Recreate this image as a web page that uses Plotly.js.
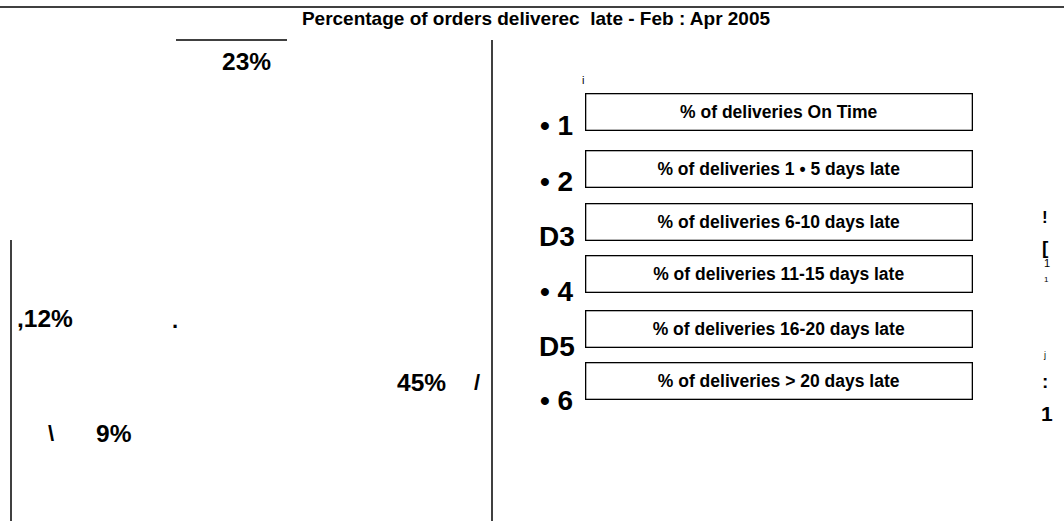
<!DOCTYPE html>
<html>
<head>
<meta charset="utf-8">
<script src="https://cdn.plot.ly/plotly-3.0.1.min.js"></script>
<style>html,body{margin:0;padding:0;background:#fff;}#chart{width:1064px;height:521px;}</style>
</head>
<body>
<div id="chart"></div>
<script>
// ---- data ----
const chartTitle = 'Percentage of orders deliverec  late - Feb : Apr 2005';
const pctValues = [23, 12, 45, 9];
const pctPrefix = ['', ',', '', ''];
const legendMarks = ['\u2022 1', '\u2022 2', 'D3', '\u2022 4', 'D5', '\u2022 6'];
const legendItems = [
  '% of deliveries On Time',
  '% of deliveries 1 \u2022 5 days late',
  '% of deliveries 6-10 days late',
  '% of deliveries 11-15 days late',
  '% of deliveries 16-20 days late',
  '% of deliveries > 20 days late'
];
const strayMarks = ['.', '/', '\\', 'i', '!', '[', '1', '1', 'j', ':', '1'];

// ---- layout positions (pixels) ----
const W = 1064, H = 521;
const px = x => x / W;
const py = y => 1 - y / H;
const FONT = 'Liberation Sans, Arial, sans-serif';

const pctPos = [[246, 61], [45, 318], [421, 382], [114, 433]];
const markPos = [[538, 125], [538, 181], [537, 237], [538, 291], [537, 346], [538, 400]];
const boxCY = [111.5, 169, 222, 273.5, 328.5, 381];
const strayPos = [
  [175, 320, 22, true], [477, 382, 22, true], [51, 433, 22, true],
  [583, 80, 11, false],
  [1045, 217, 17, true], [1045, 247, 19, true], [1047, 263, 11, false],
  [1046, 279, 8, false], [1044, 355, 9, false], [1045, 381, 19, true], [1047, 413, 21, true]
];

const annotations = [];
pctValues.forEach((v, i) => {
  annotations.push({
    text: '<b>' + pctPrefix[i] + v + '%</b>',
    xref: 'paper', yref: 'paper', x: px(pctPos[i][0]), y: py(pctPos[i][1]),
    xanchor: 'center', yanchor: 'middle', showarrow: false,
    font: {family: FONT, size: 24.5, color: '#000'}
  });
});
legendMarks.forEach((m, i) => {
  annotations.push({
    text: '<b>' + m + '</b>',
    xref: 'paper', yref: 'paper', x: px(markPos[i][0]), y: py(markPos[i][1]),
    xanchor: 'left', yanchor: 'middle', showarrow: false,
    font: {family: FONT, size: 28, color: '#000'}
  });
});
legendItems.forEach((t, i) => {
  annotations.push({
    text: '<b>' + t + '</b>',
    xref: 'paper', yref: 'paper', x: px(778.5), y: py(boxCY[i]),
    xanchor: 'center', yanchor: 'middle', showarrow: false,
    width: 385, height: 35, borderpad: 0, borderwidth: 1.3, bordercolor: '#000',
    align: 'center', valign: 'middle',
    font: {family: FONT, size: 17.5, color: '#000'}
  });
});
strayMarks.forEach((s, i) => {
  const p = strayPos[i];
  annotations.push({
    text: p[3] ? '<b>' + s + '</b>' : s,
    xref: 'paper', yref: 'paper', x: px(p[0]), y: py(p[1]),
    xanchor: 'center', yanchor: 'middle', showarrow: false,
    font: {family: FONT, size: p[2], color: '#000'}
  });
});

const lineStyle = {color: '#000', width: 1.5};
const shapes = [
  {type: 'line', xref: 'paper', yref: 'paper', x0: 0, x1: 1, y0: py(7), y1: py(7), line: lineStyle},
  {type: 'line', xref: 'paper', yref: 'paper', x0: px(176), x1: px(287), y0: py(40), y1: py(40), line: lineStyle},
  {type: 'line', xref: 'paper', yref: 'paper', x0: px(492), x1: px(492), y0: py(40), y1: 0, line: lineStyle},
  {type: 'line', xref: 'paper', yref: 'paper', x0: px(11), x1: px(11), y0: py(240), y1: 0, line: lineStyle}
];

const layout = {
  width: W, height: H,
  margin: {l: 0, r: 0, t: 0, b: 0},
  paper_bgcolor: '#fff', plot_bgcolor: '#fff',
  title: {text: '<b>' + chartTitle + '</b>', x: px(536), xanchor: 'center', y: py(18), yanchor: 'middle',
          font: {family: FONT, size: 19, color: '#000'}},
  xaxis: {visible: false, range: [0, 1]},
  yaxis: {visible: false, range: [0, 1]},
  showlegend: false,
  annotations: annotations,
  shapes: shapes
};

Plotly.newPlot('chart', [], layout, {displayModeBar: false, staticPlot: true});
</script>
</body>
</html>
